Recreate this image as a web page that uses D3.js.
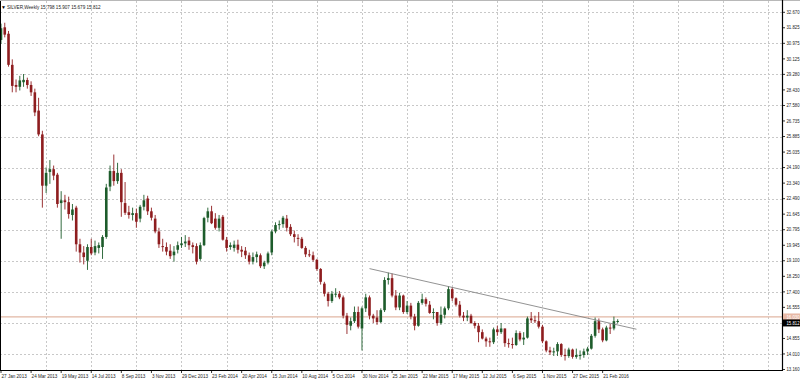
<!DOCTYPE html>
<html><head><meta charset="utf-8">
<script src="https://cdn.jsdelivr.net/npm/d3@7/dist/d3.min.js"></script>
<style>
html,body{margin:0;padding:0;background:#fff;}
svg{display:block;}
text{font-family:"Liberation Sans",Arial,sans-serif;}
</style></head>
<body>
<svg id="c" width="800" height="380"></svg>
<script>
// ---------- DATA ----------
const symbolTitle = "SILVER,Weekly";
const titleValues = ["15.798", "15.907", "15.679", "15.812"];

const opens = [31.16,31.85,31.50,29.80,28.70,28.60,28.85,28.97,28.70,28.30,27.30,26.00,23.20,23.95,24.10,23.80,22.25,22.40,22.30,21.60,
22.00,20.00,19.55,19.10,19.85,19.55,19.80,19.85,20.40,23.15,24.00,23.45,23.90,22.25,21.75,21.60,21.70,21.40,22.05,22.50,
21.80,21.40,20.70,19.90,19.85,19.65,19.40,19.70,19.95,20.05,20.20,19.95,19.90,19.20,19.95,21.45,21.80,21.40,20.90,21.50,
20.25,19.85,19.80,19.98,19.70,19.65,19.40,19.05,19.30,19.40,18.80,19.00,19.55,20.70,21.05,21.10,21.40,20.95,20.55,20.35,
20.30,19.80,19.45,19.40,19.15,18.65,17.85,17.30,16.90,17.30,17.30,17.10,16.10,15.55,15.80,16.30,15.40,16.50,17.10,16.10,
16.00,15.75,16.40,18.05,18.15,17.20,16.55,17.20,16.30,16.65,16.05,15.55,16.80,17.00,16.70,16.25,16.30,15.70,16.15,16.50,
17.55,17.05,16.70,16.10,16.00,16.10,15.70,15.55,15.20,14.85,14.70,14.65,15.35,15.20,15.40,14.60,14.55,14.50,15.15,14.80,
14.90,15.95,15.85,15.80,15.50,14.70,14.20,14.10,14.15,14.55,13.95,13.90,14.25,13.85,13.95,13.95,14.15,14.30,15.00,15.80,
15.35,14.75,15.45,15.40,15.798];
const highs = [32.05,32.10,31.65,30.10,29.00,29.20,29.30,29.10,28.90,28.50,28.00,26.20,24.20,24.60,24.30,23.90,22.90,22.70,22.60,22.20,
22.10,20.30,19.90,20.00,20.30,20.20,20.10,20.50,23.30,24.30,24.90,24.45,24.10,23.40,22.10,22.00,21.95,22.15,22.70,22.65,
22.00,21.60,20.90,20.30,20.10,20.00,19.90,20.15,20.40,20.50,20.40,20.10,20.05,20.10,21.50,22.00,22.10,21.70,21.60,21.60,
20.40,20.10,20.20,20.25,19.90,19.85,19.55,19.55,19.60,19.50,19.10,19.60,20.80,21.20,21.30,21.55,21.60,21.10,20.75,20.55,
20.40,19.90,19.70,19.60,19.20,18.70,17.95,17.40,17.45,17.60,17.45,17.20,16.25,16.00,16.60,16.60,16.60,17.30,17.20,16.20,
16.40,16.50,18.20,18.45,18.40,17.50,17.35,17.25,16.90,16.80,16.20,16.90,17.30,17.10,16.90,16.50,16.30,16.60,16.60,17.70,
17.65,17.10,16.90,16.30,16.40,16.20,15.80,15.70,15.35,14.95,14.90,15.45,15.55,15.70,15.40,14.85,14.90,15.30,15.25,15.20,
16.05,16.30,16.10,16.30,15.60,14.75,14.40,14.35,14.65,14.60,14.30,14.35,14.30,14.30,14.20,14.30,14.40,15.10,16.00,15.95,
15.45,15.55,15.65,16.05,15.907];
const lows = [30.95,31.30,29.70,28.30,28.30,28.40,28.60,28.50,28.10,27.00,25.90,22.00,22.80,23.30,23.50,22.00,20.30,21.90,21.40,21.30,
19.60,19.00,18.90,18.60,19.40,19.40,19.50,19.20,20.30,22.90,23.20,23.30,21.50,21.60,21.40,21.30,20.90,21.20,21.85,21.60,
21.30,20.60,19.80,19.60,19.40,19.20,19.05,19.50,19.80,19.85,19.70,19.50,18.90,19.10,19.90,21.20,21.10,20.80,20.70,20.20,
19.60,19.70,19.60,19.50,19.30,19.20,18.90,18.90,19.00,18.70,18.65,18.90,19.40,20.60,20.80,20.90,20.70,20.45,20.10,19.90,
19.75,19.30,19.30,19.05,18.55,17.80,17.15,16.60,16.80,17.10,17.00,15.95,15.10,15.30,15.70,15.40,14.20,16.30,15.90,15.70,
15.60,15.70,16.30,17.80,17.10,16.40,16.40,16.20,16.20,15.90,15.30,15.50,16.70,16.60,16.20,15.90,15.55,15.60,15.95,16.40,
16.90,16.60,16.00,15.80,15.80,15.65,15.40,14.65,14.80,14.40,14.40,14.55,15.00,15.10,14.40,14.35,14.30,14.45,14.70,14.50,
14.85,15.70,15.70,15.40,14.60,14.10,13.95,13.90,13.90,13.85,13.65,13.80,13.75,13.75,13.70,13.80,13.95,14.25,14.90,15.15,
14.65,14.70,15.10,15.30,15.679];
const closes = [31.80,31.45,29.80,28.65,28.60,28.95,28.98,28.70,28.30,27.20,26.00,23.20,23.90,24.10,23.75,22.20,22.40,22.30,21.65,21.90,
20.00,19.55,19.30,19.85,19.50,19.90,19.95,20.40,23.10,24.00,23.45,23.90,22.30,21.72,21.60,21.70,21.23,22.05,22.40,21.80,
21.45,20.70,20.00,19.85,19.60,19.35,19.60,19.95,20.05,20.15,19.95,19.85,19.05,19.95,21.43,21.80,21.15,20.90,21.40,20.25,
19.80,19.95,19.98,19.70,19.60,19.40,19.05,19.30,19.45,18.80,19.00,19.50,20.70,21.05,21.10,21.45,20.90,20.55,20.40,20.30,
19.80,19.45,19.40,19.15,18.65,17.95,17.30,16.90,17.30,17.30,17.10,16.10,15.60,15.80,16.30,15.50,16.50,17.10,16.10,15.95,
15.75,16.40,18.05,18.15,17.20,16.55,17.20,16.30,16.65,16.05,15.55,16.80,17.00,16.75,16.25,16.30,15.70,16.15,16.50,17.55,
17.05,16.70,16.10,16.00,16.10,15.70,15.55,15.20,14.85,14.70,14.65,15.35,15.20,15.40,14.60,14.55,14.50,15.15,14.80,14.90,
15.95,15.85,15.80,15.50,14.70,14.20,14.10,14.15,14.55,13.95,13.90,14.25,13.85,13.95,13.95,14.15,14.30,15.00,15.80,15.35,
14.75,15.45,15.40,15.80,15.812];

const timeLabels = ["27 Jan 2013","24 Mar 2013","19 May 2013","14 Jul 2013","8 Sep 2013","3 Nov 2013","29 Dec 2013","23 Feb 2014",
"20 Apr 2014","15 Jun 2014","10 Aug 2014","5 Oct 2014","30 Nov 2014","25 Jan 2015","22 Mar 2015","17 May 2015","12 Jul 2015",
"6 Sep 2015","1 Nov 2015","27 Dec 2015","21 Feb 2016"];
const timeLabelBars = [0,8,16,24,32,40,48,56,64,72,80,88,96,104,112,120,128,136,144,152,160];

const priceTicks = [32.670,31.825,30.975,30.125,29.280,28.430,27.580,26.735,25.885,25.035,24.190,23.340,22.490,21.645,
20.795,19.945,19.100,18.250,17.400,16.555,15.705,14.855,14.010,13.160];

const hLinePrice = 16.030;
const bidPrice = 15.812;
const trendBars = [98, 169];
const trendPrices = [18.67, 15.36];

// ---------- LAYOUT ----------
const svg = d3.select("#c");
const W = 800, H = 380;
const plotL = 0, plotR = 782, plotT = 1, plotB = 370;
const nBarsView = 207.7;

const x = d3.scaleLinear().domain([0, nBarsView]).range([1, plotR]);
const y = d3.scaleLinear().domain([13.133, 32.670]).range([plotB, 12.3]);

const bullCol = "#1d5c2b", bearCol = "#8e1d1f";
const gridCol = "#c8c8c8";

// top border
svg.append("line").attr("x1",0).attr("x2",W).attr("y1",0.5).attr("y2",0.5).attr("stroke","#b8b8b8");

svg.append("clipPath").attr("id","plot").append("rect")
  .attr("x",plotL).attr("y",plotT).attr("width",plotR-plotL).attr("height",plotB-plotT);

const g = svg.append("g").attr("clip-path","url(#plot)");

// grid horizontal (every other price label)
priceTicks.forEach((p,k)=>{
  if (k%2) return;
  const yy = Math.round(y(p))+0.5;
  g.append("line").attr("x1",plotL).attr("x2",plotR).attr("y1",yy).attr("y2",yy)
   .attr("stroke",gridCol).attr("stroke-width",1).attr("stroke-dasharray","2,2");
});
// grid vertical
d3.range(12, nBarsView, 12).forEach(b=>{
  const xx = Math.round(x(b))+0.5;
  g.append("line").attr("x1",xx).attr("x2",xx).attr("y1",plotT).attr("y2",plotB)
   .attr("stroke",gridCol).attr("stroke-width",1).attr("stroke-dasharray","2,2");
});

// horizontal line object
g.append("line").attr("x1",plotL).attr("x2",plotR)
 .attr("y1",y(hLinePrice)).attr("y2",y(hLinePrice))
 .attr("stroke","#e2b7a4").attr("stroke-width",1.2);

// candles
const bars = d3.range(opens.length).map(i=>({i,o:opens[i],h:highs[i],l:lows[i],c:closes[i]}));
const bw = 2.6;
const cg = g.append("g");
bars.forEach(d=>{
  const col = d.c >= d.o ? bullCol : bearCol;
  const cx = x(d.i);
  cg.append("line").attr("x1",cx).attr("x2",cx).attr("y1",y(d.h)).attr("y2",y(d.l))
    .attr("stroke",col).attr("stroke-width",0.9);
  const top = Math.min(y(d.o),y(d.c)), bot = Math.max(y(d.o),y(d.c));
  cg.append("rect").attr("x",cx-bw/2).attr("y",top).attr("width",bw).attr("height",Math.max(1,bot-top))
    .attr("fill",col);
});

// trend line
g.append("line")
 .attr("x1",x(trendBars[0])).attr("y1",y(trendPrices[0]))
 .attr("x2",x(trendBars[1])).attr("y2",y(trendPrices[1]))
 .attr("stroke","#777").attr("stroke-width",0.8);

// axes lines
svg.append("line").attr("x1",plotR+0.5).attr("x2",plotR+0.5).attr("y1",0).attr("y2",plotB+0.5)
  .attr("stroke","#000").attr("stroke-width",1.2);
svg.append("line").attr("x1",0).attr("x2",plotR+1).attr("y1",plotB+0.5).attr("y2",plotB+0.5)
  .attr("stroke","#000").attr("stroke-width",1.2);
svg.append("line").attr("x1",0.5).attr("x2",0.5).attr("y1",plotT).attr("y2",plotB)
  .attr("stroke","#000").attr("stroke-width",1);

// price labels
const fs = 4.6;
const priceTextLen = 13;
priceTicks.forEach(p=>{
  const yy = y(p);
  svg.append("line").attr("x1",plotR).attr("x2",plotR+3).attr("y1",yy).attr("y2",yy).attr("stroke","#000").attr("stroke-width",0.8);
  svg.append("text").attr("x",plotR+4.5).attr("y",yy+1.7).attr("font-size",fs).attr("fill","#222")
    .attr("textLength",priceTextLen).attr("lengthAdjust","spacingAndGlyphs").text(d3.format(".3f")(p));
});
// hline label
const yh = y(hLinePrice);
svg.append("rect").attr("x",plotR+1).attr("y",yh-3.5).attr("width",W-plotR-1).attr("height",7).attr("fill","#e8b9a6");
svg.append("text").attr("x",plotR+4.5).attr("y",yh+1.7).attr("font-size",fs).attr("fill","#fff")
  .attr("textLength",priceTextLen).attr("lengthAdjust","spacingAndGlyphs").text(d3.format(".3f")(hLinePrice));
// bid label
const yb = y(bidPrice)+2;
svg.append("rect").attr("x",plotR+1).attr("y",yb-3.5).attr("width",W-plotR-1).attr("height",7).attr("fill","#000");
svg.append("text").attr("x",plotR+4.5).attr("y",yb+1.7).attr("font-size",fs).attr("fill","#fff")
  .attr("textLength",priceTextLen).attr("lengthAdjust","spacingAndGlyphs").text(d3.format(".3f")(bidPrice));

// time labels
timeLabels.forEach((t,k)=>{
  const xx = x(timeLabelBars[k]);
  svg.append("line").attr("x1",xx).attr("x2",xx).attr("y1",plotB).attr("y2",plotB+3).attr("stroke","#000").attr("stroke-width",0.8);
  svg.append("text").attr("x",xx+0.5).attr("y",plotB+7.5).attr("font-size",fs).attr("fill","#222").text(t);
});

// title
svg.append("text").attr("x",1).attr("y",8.5).attr("font-size",5).attr("fill","#000").text("\u25BC");
svg.append("text").attr("x",7).attr("y",8.5).attr("font-size",fs).attr("fill","#222")
  .text(symbolTitle + "  " + titleValues.join(" "));
</script>
</body></html>
